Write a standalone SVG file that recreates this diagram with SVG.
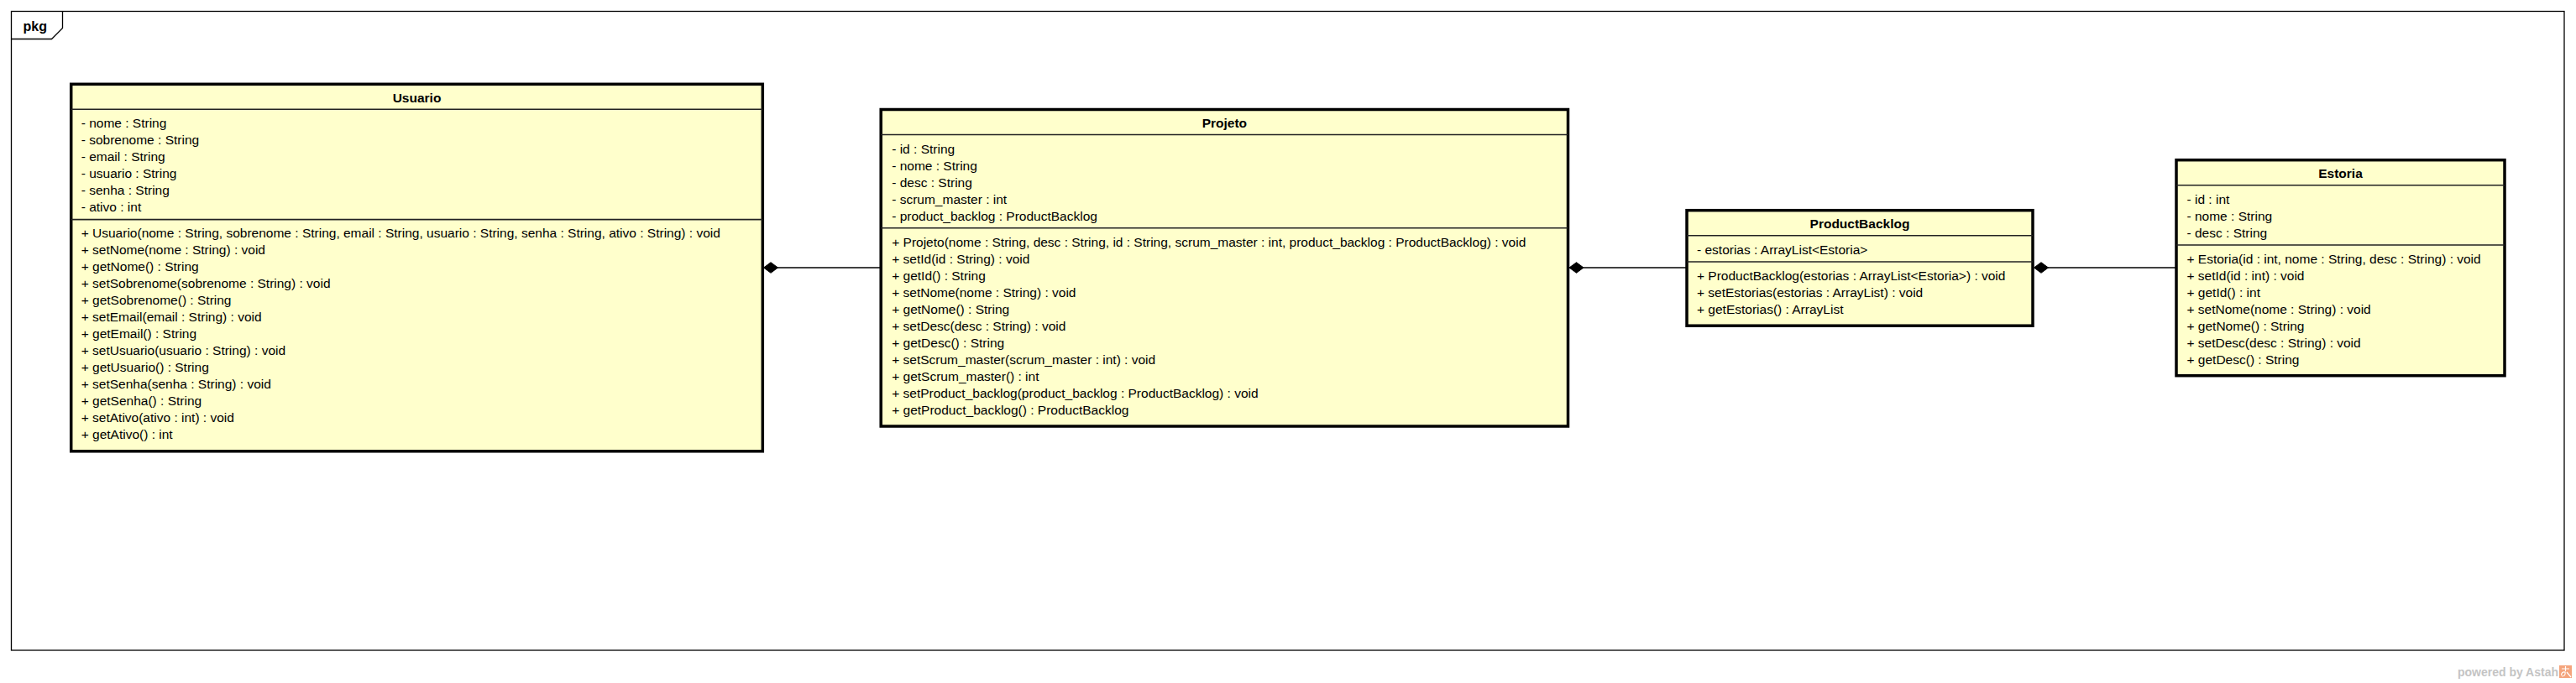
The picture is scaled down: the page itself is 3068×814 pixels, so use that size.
<svg xmlns="http://www.w3.org/2000/svg" width="3068" height="814" viewBox="0 0 3068 814">
<style>
text{font-family:"Liberation Sans",Arial,sans-serif;fill:#000}
.t{font-size:15.5px}
.n{font-size:15.5px;font-weight:bold;text-anchor:middle}
.box{fill:#ffffcc;stroke:#000;stroke-width:3.5}
.sep{stroke:#222;stroke-width:1.6}
.frame{fill:none;stroke:#000;stroke-width:1.3}
.conn{stroke:#000;stroke-width:1.4;fill:none}
.dia{fill:#000;stroke:#000;stroke-width:1}
.pw{font-size:14px;font-weight:bold;fill:#c4c4c4;text-anchor:end}
</style>
<rect width="3068" height="814" fill="#fff"/>
<g id="frame">
<rect class="frame" x="13.5" y="13.5" width="3040.5" height="761.5"/>
<path class="frame" d="M13.5,46.5 H61.5 L74.5,33.5 V13.5"/>
<text x="27.5" y="36.7" style="font-size:16px;font-weight:bold">pkg</text>
</g>
<g id="connectors">
<line class="conn" x1="926" y1="319" x2="1049" y2="319"/>
<path class="dia" d="M909.5,319 L918,312.7 L926.5,319 L918,325.3 Z"/>
<line class="conn" x1="1886" y1="319" x2="2009" y2="319"/>
<path class="dia" d="M1869,319 L1877.5,312.7 L1886,319 L1877.5,325.3 Z"/>
<line class="conn" x1="2439" y1="319" x2="2592" y2="319"/>
<path class="dia" d="M2422.5,319 L2431,312.7 L2439.5,319 L2431,325.3 Z"/>
</g>
<g id="Usuario" transform="translate(84.7,100.3)">
<rect class="box" x="0" y="0" width="823.6" height="437.5"/>
<line class="sep" x1="0" y1="30" x2="823.6" y2="30"/>
<line class="sep" x1="0" y1="161.3" x2="823.6" y2="161.3"/>
<text class="n" x="411.8" y="21.5">Usuario</text>
<text class="t" x="12" y="52">- nome : String</text>
<text class="t" x="12" y="72">- sobrenome : String</text>
<text class="t" x="12" y="92">- email : String</text>
<text class="t" x="12" y="112">- usuario : String</text>
<text class="t" x="12" y="132">- senha : String</text>
<text class="t" x="12" y="152">- ativo : int</text>
<text class="t" x="12" y="183">+ Usuario(nome : String, sobrenome : String, email : String, usuario : String, senha : String, ativo : String) : void</text>
<text class="t" x="12" y="203">+ setNome(nome : String) : void</text>
<text class="t" x="12" y="223">+ getNome() : String</text>
<text class="t" x="12" y="243">+ setSobrenome(sobrenome : String) : void</text>
<text class="t" x="12" y="263">+ getSobrenome() : String</text>
<text class="t" x="12" y="283">+ setEmail(email : String) : void</text>
<text class="t" x="12" y="303">+ getEmail() : String</text>
<text class="t" x="12" y="323">+ setUsuario(usuario : String) : void</text>
<text class="t" x="12" y="343">+ getUsuario() : String</text>
<text class="t" x="12" y="363">+ setSenha(senha : String) : void</text>
<text class="t" x="12" y="383">+ getSenha() : String</text>
<text class="t" x="12" y="403">+ setAtivo(ativo : int) : void</text>
<text class="t" x="12" y="423">+ getAtivo() : int</text>
</g>
<g id="Projeto" transform="translate(1049.2,130.5)">
<rect class="box" x="0" y="0" width="818.3" height="377.5"/>
<line class="sep" x1="0" y1="30" x2="818.3" y2="30"/>
<line class="sep" x1="0" y1="141.3" x2="818.3" y2="141.3"/>
<text class="n" x="409.2" y="21.5">Projeto</text>
<text class="t" x="13" y="52">- id : String</text>
<text class="t" x="13" y="72">- nome : String</text>
<text class="t" x="13" y="92">- desc : String</text>
<text class="t" x="13" y="112">- scrum_master : int</text>
<text class="t" x="13" y="132">- product_backlog : ProductBacklog</text>
<text class="t" x="13" y="163">+ Projeto(nome : String, desc : String, id : String, scrum_master : int, product_backlog : ProductBacklog) : void</text>
<text class="t" x="13" y="183">+ setId(id : String) : void</text>
<text class="t" x="13" y="203">+ getId() : String</text>
<text class="t" x="13" y="223">+ setNome(nome : String) : void</text>
<text class="t" x="13" y="243">+ getNome() : String</text>
<text class="t" x="13" y="263">+ setDesc(desc : String) : void</text>
<text class="t" x="13" y="283">+ getDesc() : String</text>
<text class="t" x="13" y="303">+ setScrum_master(scrum_master : int) : void</text>
<text class="t" x="13" y="323">+ getScrum_master() : int</text>
<text class="t" x="13" y="343">+ setProduct_backlog(product_backlog : ProductBacklog) : void</text>
<text class="t" x="13" y="363">+ getProduct_backlog() : ProductBacklog</text>
</g>
<g id="ProductBacklog" transform="translate(2009,250.7)">
<rect class="box" x="0" y="0" width="412" height="137.5"/>
<line class="sep" x1="0" y1="30" x2="412" y2="30"/>
<line class="sep" x1="0" y1="61.3" x2="412" y2="61.3"/>
<text class="n" x="206" y="21.5">ProductBacklog</text>
<text class="t" x="12" y="52">- estorias : ArrayList&lt;Estoria&gt;</text>
<text class="t" x="12" y="83">+ ProductBacklog(estorias : ArrayList&lt;Estoria&gt;) : void</text>
<text class="t" x="12" y="103">+ setEstorias(estorias : ArrayList) : void</text>
<text class="t" x="12" y="123">+ getEstorias() : ArrayList</text>
</g>
<g id="Estoria" transform="translate(2592,190.7)">
<rect class="box" x="0" y="0" width="391" height="257"/>
<line class="sep" x1="0" y1="30" x2="391" y2="30"/>
<line class="sep" x1="0" y1="101.3" x2="391" y2="101.3"/>
<text class="n" x="195.5" y="21.5">Estoria</text>
<text class="t" x="12.5" y="52">- id : int</text>
<text class="t" x="12.5" y="72">- nome : String</text>
<text class="t" x="12.5" y="92">- desc : String</text>
<text class="t" x="12.5" y="123">+ Estoria(id : int, nome : String, desc : String) : void</text>
<text class="t" x="12.5" y="143">+ setId(id : int) : void</text>
<text class="t" x="12.5" y="163">+ getId() : int</text>
<text class="t" x="12.5" y="183">+ setNome(nome : String) : void</text>
<text class="t" x="12.5" y="203">+ getNome() : String</text>
<text class="t" x="12.5" y="223">+ setDesc(desc : String) : void</text>
<text class="t" x="12.5" y="243">+ getDesc() : String</text>
</g>
<g id="footer">
<text class="pw" x="3047" y="806">powered by Astah</text>
<rect x="3048" y="793" width="15" height="15" fill="#f4a47c"/>
<path d="M3051,797 H3060 M3055.5,794 V800 M3050.5,805 Q3051,800 3055,801 Q3056,806 3051,806 M3057,801 L3062,807" stroke="#fff" stroke-width="1.2" fill="none"/>
</g>
</svg>
